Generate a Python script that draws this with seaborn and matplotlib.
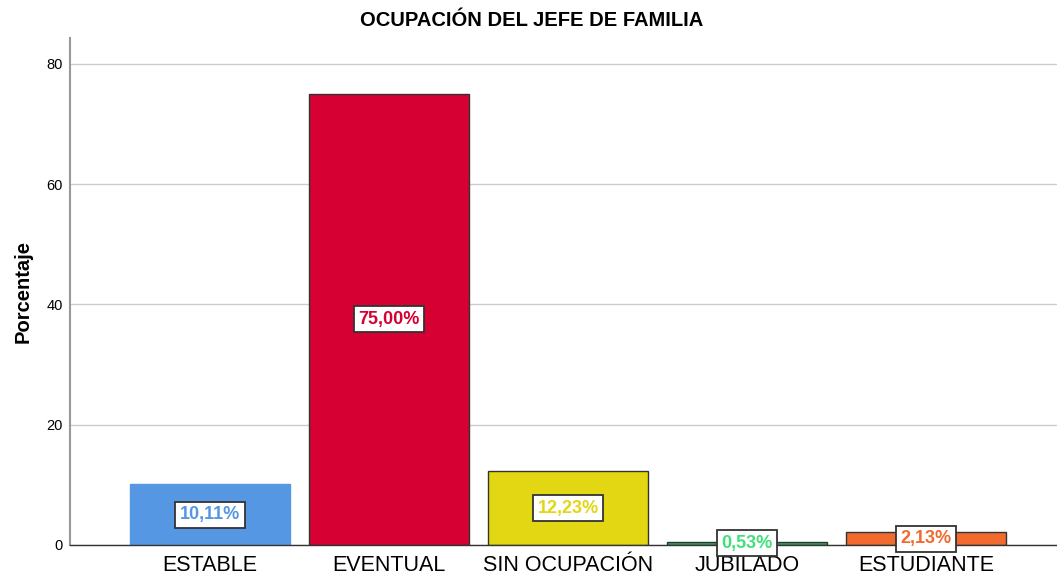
import matplotlib
matplotlib.use("Agg")
import matplotlib.pyplot as plt
import seaborn as sns
import pandas as pd

categorias = ["ESTABLE", "EVENTUAL", "SIN OCUPACIÓN", "JUBILADO", "ESTUDIANTE"]
porcentajes = [10.11, 75.00, 12.23, 0.53, 2.13]
colores = ["#5597e3", "#d70032", "#e3d612", "#2ea85c", "#f26a2e"]
colores_texto = ["#5597e3", "#d70032", "#e3d612", "#3fe07c", "#f26a2e"]
bordes = ["#5597e3", "#333333", "#333333", "#333333", "#333333"]

df = pd.DataFrame({"ocupacion": categorias, "pct": porcentajes})

sns.set_style("white")
plt.rcParams["font.family"] = ["Liberation Sans", "DejaVu Sans"]
plt.rcParams["text.color"] = "black"
plt.rcParams["xtick.color"] = "black"
plt.rcParams["ytick.color"] = "black"
plt.rcParams["axes.labelcolor"] = "black"

fig = plt.figure(figsize=(10.57, 5.75), dpi=100)
ax = fig.add_axes([70 / 1057, 30 / 575, 1 - 70 / 1057, 507 / 575])

sns.barplot(data=df, x="ocupacion", y="pct", hue="ocupacion", palette=colores,
            legend=False, width=0.894, saturation=1, ax=ax)

for i, p in enumerate(ax.patches):
    p.set_edgecolor(bordes[i])
    p.set_linewidth(1.0)
    ax.text(p.get_x() + p.get_width() / 2, p.get_height() / 2,
            f"{porcentajes[i]:.2f}%".replace(".", ","),
            ha="center", va="center", fontsize=13, fontweight="bold",
            color=colores_texto[i], zorder=5,
            bbox=dict(boxstyle="square,pad=0.25", fc="white", ec="#333333", lw=1.3))

ax.set_xlim(-0.782, 4.73)
ax.set_ylim(0, 84.3)
ax.set_yticks([0, 20, 40, 60, 80])
ax.yaxis.grid(True, color="#cccccc", lw=1)
ax.set_axisbelow(True)
ax.tick_params(axis="y", labelsize=10.5, length=0, pad=5)
ax.tick_params(axis="x", labelsize=15.5, length=0, pad=7)
ax.set_xlabel("")
ax.set_ylabel("Porcentaje", fontsize=14.5, fontweight="bold", labelpad=10)
fig.text(0.503, 0.965, "OCUPACIÓN DEL JEFE DE FAMILIA", fontsize=14.5,
         fontweight="bold", ha="center", va="center")

for s in ["top", "right"]:
    ax.spines[s].set_visible(False)
ax.spines["left"].set_color("#999999")
ax.spines["left"].set_linewidth(1.5)
ax.spines["bottom"].set_color("#333333")
ax.spines["bottom"].set_linewidth(1)

fig.savefig("out.png", dpi=100)
